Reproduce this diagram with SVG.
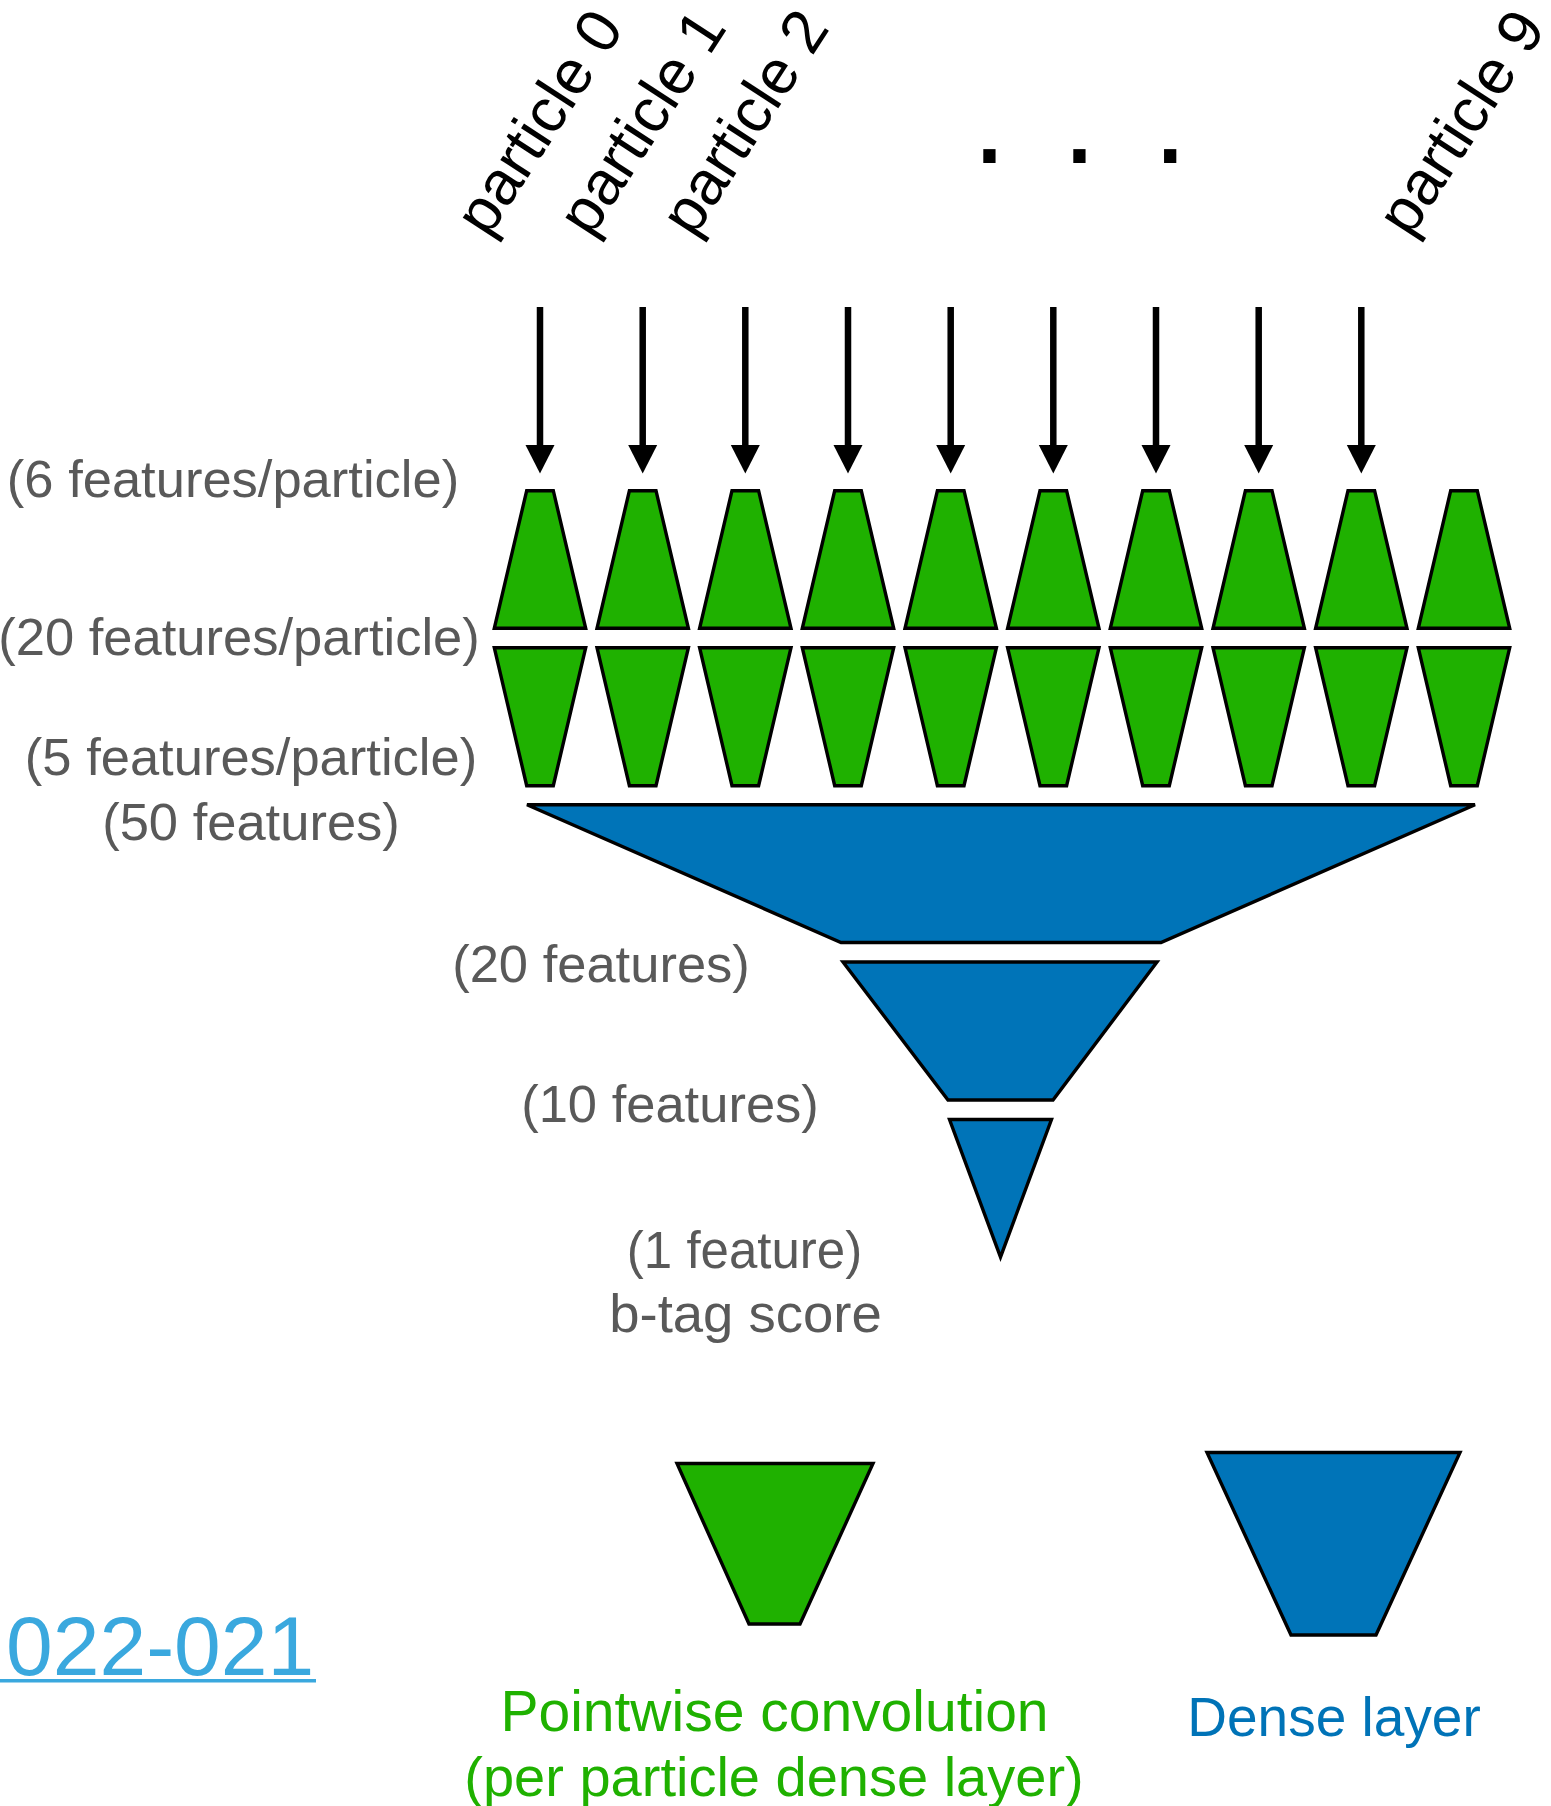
<svg xmlns="http://www.w3.org/2000/svg" width="1551" height="1806" viewBox="0 0 1551 1806">
<defs>
<style>
.lbl{font-family:"Liberation Sans",Arial,sans-serif;font-size:52.5px;fill:#595959;text-anchor:middle}
.pl{font-family:"Liberation Sans",Arial,sans-serif;font-size:62px;fill:#000}
.g{fill:#1fb100;stroke:#000;stroke-width:3.4;stroke-linejoin:miter}
.b{fill:#0074b8;stroke:#000;stroke-width:3.4;stroke-linejoin:miter}
.shaft{stroke:#000;stroke-width:6.5}
.head{fill:#000}
.leg{font-family:"Liberation Sans",Arial,sans-serif;font-size:56.5px;text-anchor:middle}
</style>
</defs>
<rect width="1551" height="1806" fill="#fff"/>

<g id="particle-labels">
<text class="pl" transform="translate(488,239) rotate(-57)">particle 0</text>
<text class="pl" transform="translate(590.7,239) rotate(-57)">particle 1</text>
<text class="pl" transform="translate(693.4,239) rotate(-57)">particle 2</text>
<text class="pl" transform="translate(1410,239) rotate(-57)">particle 9</text>
<text font-family="Liberation Sans, Arial, sans-serif" font-size="129" x="971.6 1061.6 1152.3" y="163">...</text>
</g>

<g id="connectors">
<g class="shaft">
<line x1="540" y1="307" x2="540" y2="447"/>
<line x1="642.7" y1="307" x2="642.7" y2="447"/>
<line x1="745.3" y1="307" x2="745.3" y2="447"/>
<line x1="848" y1="307" x2="848" y2="447"/>
<line x1="950.7" y1="307" x2="950.7" y2="447"/>
<line x1="1053.3" y1="307" x2="1053.3" y2="447"/>
<line x1="1156" y1="307" x2="1156" y2="447"/>
<line x1="1258.7" y1="307" x2="1258.7" y2="447"/>
<line x1="1361.3" y1="307" x2="1361.3" y2="447"/>
</g>
<g class="head">
<polygon points="525.5,445 554.5,445 540,473.5"/>
<polygon points="628.2,445 657.2,445 642.7,473.5"/>
<polygon points="730.8,445 759.8,445 745.3,473.5"/>
<polygon points="833.5,445 862.5,445 848,473.5"/>
<polygon points="936.2,445 965.2,445 950.7,473.5"/>
<polygon points="1038.8,445 1067.8,445 1053.3,473.5"/>
<polygon points="1141.5,445 1170.5,445 1156,473.5"/>
<polygon points="1244.2,445 1273.2,445 1258.7,473.5"/>
<polygon points="1346.8,445 1375.8,445 1361.3,473.5"/>
</g>
</g>

<g id="conv-layer-1">
<polygon class="g" points="526.7,490.7 553.3,490.7 585.7,628.3 494.3,628.3"/>
<polygon class="g" points="629.4,490.7 656,490.7 688.4,628.3 597,628.3"/>
<polygon class="g" points="732,490.7 758.6,490.7 791,628.3 699.6,628.3"/>
<polygon class="g" points="834.7,490.7 861.3,490.7 893.7,628.3 802.3,628.3"/>
<polygon class="g" points="937.4,490.7 964,490.7 996.4,628.3 905,628.3"/>
<polygon class="g" points="1040,490.7 1066.6,490.7 1099,628.3 1007.6,628.3"/>
<polygon class="g" points="1142.7,490.7 1169.3,490.7 1201.7,628.3 1110.3,628.3"/>
<polygon class="g" points="1245.4,490.7 1272,490.7 1304.4,628.3 1213,628.3"/>
<polygon class="g" points="1348,490.7 1374.6,490.7 1407,628.3 1315.6,628.3"/>
<polygon class="g" points="1450.7,490.7 1477.3,490.7 1509.7,628.3 1418.3,628.3"/>
</g>

<g id="conv-layer-2">
<polygon class="g" points="494.3,647.7 585.7,647.7 553.3,785.7 526.7,785.7"/>
<polygon class="g" points="597,647.7 688.4,647.7 656,785.7 629.4,785.7"/>
<polygon class="g" points="699.6,647.7 791,647.7 758.6,785.7 732,785.7"/>
<polygon class="g" points="802.3,647.7 893.7,647.7 861.3,785.7 834.7,785.7"/>
<polygon class="g" points="905,647.7 996.4,647.7 964,785.7 937.4,785.7"/>
<polygon class="g" points="1007.6,647.7 1099,647.7 1066.6,785.7 1040,785.7"/>
<polygon class="g" points="1110.3,647.7 1201.7,647.7 1169.3,785.7 1142.7,785.7"/>
<polygon class="g" points="1213,647.7 1304.4,647.7 1272,785.7 1245.4,785.7"/>
<polygon class="g" points="1315.6,647.7 1407,647.7 1374.6,785.7 1348,785.7"/>
<polygon class="g" points="1418.3,647.7 1509.7,647.7 1477.3,785.7 1450.7,785.7"/>
</g>

<g id="dense-1">
<polygon class="b" points="527,804.7 1475,804.7 1161,942.5 841,942.5"/>
</g>
<g id="dense-2">
<polygon class="b" points="843,962 1157,962 1053,1100 948,1100"/>
</g>
<g id="dense-3">
<polygon class="b" points="949.5,1119.5 1051.5,1119.5 1000.5,1257"/>
</g>

<g id="labels">
<text class="lbl" x="233" y="497">(6 features/particle)</text>
<text class="lbl" x="239" y="655">(20 features/particle)</text>
<text class="lbl" x="251" y="775">(5 features/particle)</text>
<text class="lbl" x="251" y="840">(50 features)</text>
<text class="lbl" x="601" y="982">(20 features)</text>
<text class="lbl" x="670" y="1122">(10 features)</text>
<text class="lbl" x="744.5" y="1268" style="font-size:51px">(1 feature)</text>
<text class="lbl" x="745.5" y="1332" style="font-size:54.5px">b-tag score</text>
</g>

<g id="link">
<text font-family="Liberation Sans, Arial, sans-serif" font-size="84" fill="#3aa8de" x="6" y="1675">022-021</text>
<rect x="0" y="1679" width="316" height="3.5" fill="#3aa8de"/>
</g>

<g id="legend-conv">
<polygon class="g" points="677,1463.5 873,1463.5 800,1624 749,1624"/>
<text class="leg" fill="#1fb100" x="774.5" y="1731" style="font-size:57px">Pointwise convolution</text>
<text class="leg" fill="#1fb100" x="774" y="1796" style="font-size:56px">(per particle dense layer)</text>
</g>

<g id="legend-dense">
<polygon class="b" points="1207,1452.5 1460,1452.5 1376,1635 1291,1635"/>
<text class="leg" fill="#0073b7" x="1334" y="1736" style="font-size:55px">Dense layer</text>
</g>
</svg>
